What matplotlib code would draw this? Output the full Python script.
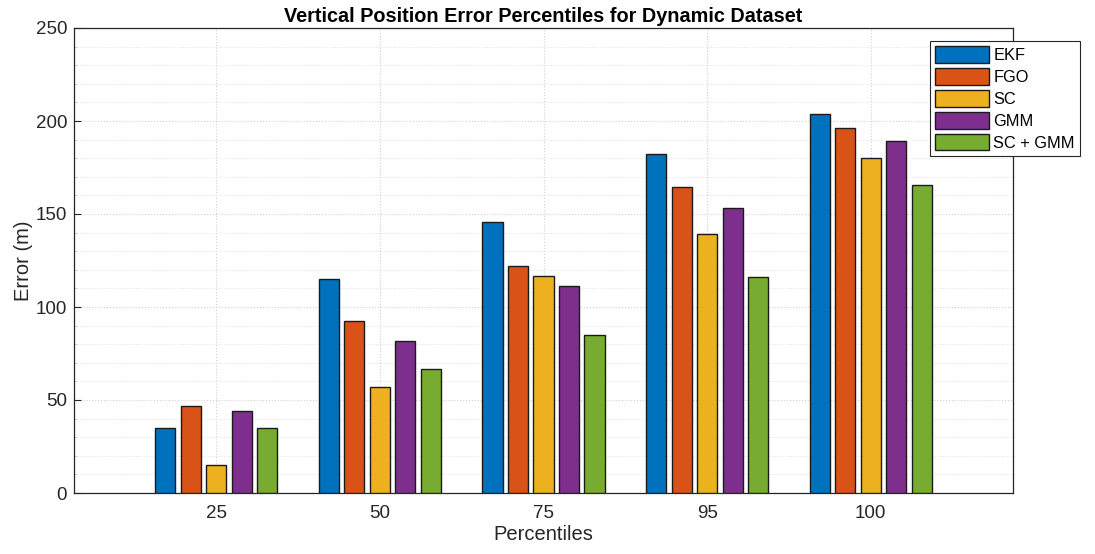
import numpy as np
import matplotlib
matplotlib.use('Agg')
import matplotlib.pyplot as plt
from matplotlib.ticker import MultipleLocator

plt.rcParams['font.family'] = ['Liberation Sans', 'DejaVu Sans']

# Data
percentiles = ['25', '50', '75', '95', '100']
methods = ['EKF', 'FGO', 'SC', 'GMM', 'SC + GMM']
ekf = [35, 115, 145.5, 182, 204]
fgo = [47, 92.5, 122, 164.5, 196.5]
sc = [15, 57, 116.5, 139.5, 180]
gmm = [44, 81.5, 111.5, 153, 189.5]
sc_gmm = [35, 66.5, 85, 116, 165.5]
colors = ['#0072BD', '#D95319', '#EDB120', '#7E2F8E', '#77AC30']

series = [ekf, fgo, sc, gmm, sc_gmm]

fig = plt.figure(figsize=(10.95, 5.54), dpi=100)
ax = fig.add_axes([74 / 1095, 1 - 493 / 554, (1013 - 74) / 1095, (493 - 28) / 554])

x = np.arange(1, len(percentiles) + 1)
step = 0.156
width = 0.123
for i, (vals, name, c) in enumerate(zip(series, methods, colors)):
    ax.bar(x + (i - 2) * step, vals, width, color=c, edgecolor='#1a1a1a',
           linewidth=1.0, label=name, zorder=3)

ax.set_xlim(0.13, 5.87)
ax.set_ylim(0, 250)
ax.set_xticks(x)
ax.set_xticklabels(percentiles)
ax.yaxis.set_major_locator(MultipleLocator(50))
ax.yaxis.set_minor_locator(MultipleLocator(10))

ax.grid(True, which='major', linestyle=':', color='#d0d0d0', linewidth=0.8, zorder=0)
ax.grid(True, which='minor', axis='y', linestyle=':', color='#e0e0e0', linewidth=0.7, zorder=0)

ax.tick_params(axis='both', which='major', labelsize=13.5, colors='#262626',
               direction='in', length=5, width=0.8)
ax.tick_params(axis='y', which='minor', direction='in', length=2.5, width=0.5, colors='#bbbbbb')
ax.tick_params(axis='x', pad=9)
ax.tick_params(axis='y', pad=5)
for s in ax.spines.values():
    s.set_color('#262626')
    s.set_linewidth(0.9)

ax.set_title('Vertical Position Error Percentiles for Dynamic Dataset',
             fontsize=14.3, fontweight='bold', color='black', pad=4)
ax.set_xlabel('Percentiles', fontsize=14.5, color='#262626', labelpad=2)
ax.set_ylabel('Error (m)', fontsize=14.5, color='#262626', labelpad=2)

# legend sits partly outside the axes, as in the original
leg = ax.legend(loc='upper left', bbox_to_anchor=(930 / 1095, 1 - 41 / 554),
                bbox_transform=fig.transFigure, fontsize=11.8, frameon=True,
                fancybox=False, edgecolor='#262626', framealpha=1,
                handlelength=3.3, handleheight=1.2, handletextpad=0.25,
                labelspacing=0.3, borderpad=0.32, borderaxespad=0)
leg.get_frame().set_linewidth(0.8)

fig.savefig('out.png', dpi=100, facecolor='white')
